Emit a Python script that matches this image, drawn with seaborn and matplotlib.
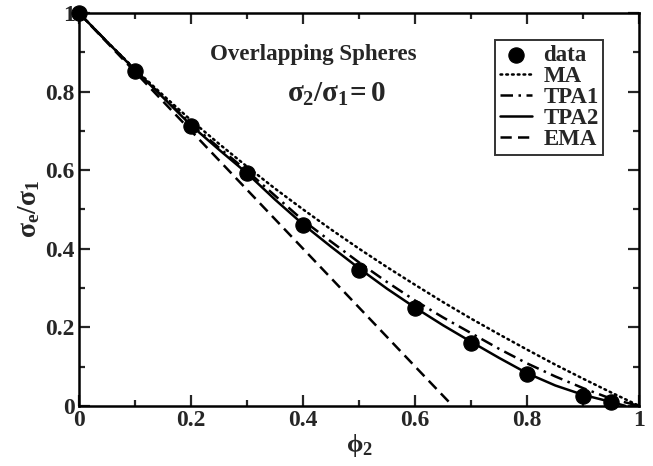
import matplotlib
matplotlib.use("Agg")
import matplotlib.pyplot as plt
import numpy as np
import pandas as pd
import seaborn as sns

sns.set_theme(style="ticks")
plt.rcParams['font.family'] = ['Liberation Serif', 'DejaVu Serif']
plt.rcParams['font.weight'] = 'bold'
plt.rcParams['mathtext.fontset'] = 'custom'
plt.rcParams['mathtext.rm'] = 'Liberation Serif:bold'
plt.rcParams['mathtext.it'] = 'Liberation Serif:bold'
plt.rcParams['mathtext.bf'] = 'Liberation Serif:bold'

# simulation data
phi_data   = [0.0, 0.1, 0.2, 0.3, 0.4, 0.5, 0.6, 0.7, 0.8, 0.9, 0.95]
sigma_data = [1.0, 0.853, 0.713, 0.593, 0.461, 0.347, 0.249, 0.161, 0.081, 0.025, 0.009]

# approximations
phi_curve = [0.0, 0.05, 0.1, 0.15, 0.2, 0.25, 0.3, 0.35, 0.4, 0.45, 0.5,
             0.55, 0.6, 0.65, 0.7, 0.75, 0.8, 0.85, 0.9, 0.95, 1.0]
ma   = [1.0, 0.927, 0.857, 0.791, 0.727, 0.667, 0.609, 0.553, 0.500, 0.449, 0.400,
        0.353, 0.308, 0.264, 0.222, 0.182, 0.143, 0.105, 0.069, 0.034, 0.0]
tpa1 = [1.0, 0.927, 0.856, 0.786, 0.718, 0.657, 0.598, 0.535, 0.472, 0.418, 0.365,
        0.315, 0.268, 0.225, 0.185, 0.145, 0.108, 0.075, 0.045, 0.018, 0.0]
phi_tpa2 = [0.0, 0.05, 0.1, 0.15, 0.2, 0.25, 0.3, 0.35, 0.4, 0.45, 0.5,
            0.55, 0.6, 0.65, 0.7, 0.75, 0.8, 0.85, 0.9, 0.95, 0.975]
tpa2 = [1.0, 0.927, 0.855, 0.785, 0.714, 0.652, 0.592, 0.525, 0.462, 0.405, 0.350,
        0.298, 0.250, 0.205, 0.163, 0.122, 0.083, 0.052, 0.028, 0.010, 0.0]
phi_ema = [0.0, 0.2, 0.4, 0.6, 0.667]
ema     = [1.0, 0.70, 0.40, 0.10, 0.0]

fig = plt.figure(figsize=(6.53, 4.66), dpi=100)
ax = fig.add_axes([0.121, 0.129, 0.858, 0.843])

lw = 1.8
sns.lineplot(x=phi_curve, y=ma, ax=ax, color='black', lw=lw, label='MA',
             linestyle=(0, (0.7, 1.6)), dash_capstyle='round')
sns.lineplot(x=phi_curve, y=tpa1, ax=ax, color='black', lw=lw, label='TPA1',
             linestyle=(0, (5, 2.2, 1, 2.2)))
sns.lineplot(x=phi_tpa2, y=tpa2, ax=ax, color='black', lw=lw, label='TPA2')
sns.lineplot(x=phi_ema, y=ema, ax=ax, color='black', lw=lw, label='EMA',
             linestyle=(0, (4.5, 2.5)))
sns.scatterplot(x=phi_data, y=sigma_data, ax=ax, color='black', s=120,
                edgecolor='black', label='data', zorder=5, clip_on=False)

ax.set_xlim(0, 1)
ax.set_ylim(0, 1)
ticks = [0, 0.2, 0.4, 0.6, 0.8, 1.0]
labels = ['0', '0.2', '0.4', '0.6', '0.8', '1']
ax.set_xticks(ticks)
ax.set_xticklabels(labels)
ax.set_yticks(ticks)
ax.set_yticklabels(labels)
ax.set_xticks(np.arange(0.1, 1.0, 0.2), minor=True)
ax.set_yticks(np.arange(0.1, 1.0, 0.2), minor=True)
ax.tick_params(which='both', direction='in', top=True, right=True, width=1.6,
               labelsize=17, pad=3)
ax.tick_params(which='major', length=8)
ax.tick_params(which='minor', length=4)
for lab in ax.get_xticklabels() + ax.get_yticklabels():
    lab.set_fontweight('bold')
for sp in ax.spines.values():
    sp.set_linewidth(1.8)
    sp.set_color('black')

ax.set_xlabel(r'$\phi_2$', fontsize=19, labelpad=1)
ax.set_ylabel(r'$\sigma_e/\sigma_1$', fontsize=20, labelpad=2)

ax.text(0.418, 0.880, 'Overlapping Spheres', transform=ax.transAxes,
        ha='center', va='baseline', fontsize=16.5, fontweight='bold')
ax.text(0.46, 0.773, r'$\sigma_2/\sigma_1\!=0$', transform=ax.transAxes,
        ha='center', va='baseline', fontsize=21)

handles, labs = ax.get_legend_handles_labels()
order = ['data', 'MA', 'TPA1', 'TPA2', 'EMA']
hmap = dict(zip(labs, handles))
leg = ax.legend([hmap[k] for k in order], order, loc='upper right',
                bbox_to_anchor=(0.936, 0.931), frameon=True, fancybox=False,
                edgecolor='black', handlelength=1.4, handletextpad=0.5,
                labelspacing=0.0, borderpad=0.2, borderaxespad=0,
                prop={'family': 'Liberation Serif', 'weight': 'bold', 'size': 16.5})
leg.get_frame().set_linewidth(1.4)

fig.savefig('out.png', dpi=100)
